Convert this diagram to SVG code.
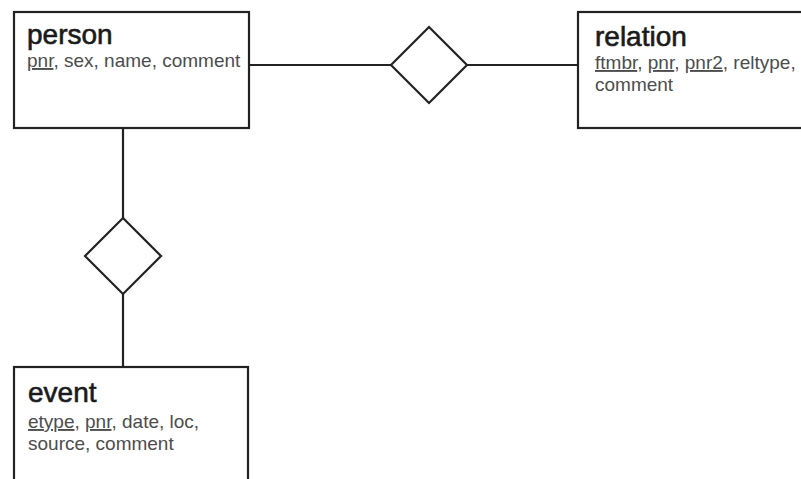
<svg xmlns="http://www.w3.org/2000/svg" width="801" height="479" viewBox="0 0 801 479">
<style>
.box{fill:#fff;stroke:#222;stroke-width:2.2}
.dia{fill:#fff;stroke:#222;stroke-width:2.2;stroke-linejoin:miter}
.conn{stroke:#222;stroke-width:2.2;fill:none}
.title{font-family:"Liberation Sans",Arial,sans-serif;font-size:28px;fill:#1a1a1a;stroke:#1a1a1a;stroke-width:0.6}
.attr{font-family:"Liberation Sans",Arial,sans-serif;font-size:19px;fill:#4d4d4d}
.key{text-decoration:underline}
</style>
<rect width="801" height="479" fill="#fff"/>
<g id="connectors">
<line class="conn" x1="249" y1="65" x2="391" y2="65"/>
<line class="conn" x1="467" y1="65" x2="578" y2="65"/>
<line class="conn" x1="123" y1="128" x2="123" y2="218"/>
<line class="conn" x1="123" y1="294" x2="123" y2="367"/>
</g>
<g id="person">
<rect class="box" x="14" y="12" width="235" height="116"/>
<text class="title" x="27" y="44">person</text>
<text class="attr" x="27" y="67"><tspan class="key">pnr</tspan>, sex, name, comment</text>
</g>
<g id="relation">
<rect class="box" x="578" y="12" width="240" height="116"/>
<text class="title" x="595" y="46">relation</text>
<text class="attr" x="595" y="69"><tspan class="key">ftmbr</tspan>, <tspan class="key">pnr</tspan>, <tspan class="key">pnr2</tspan>, reltype,</text>
<text class="attr" x="595" y="91">comment</text>
</g>
<g id="event">
<rect class="box" x="14" y="367" width="234" height="130"/>
<text class="title" x="28" y="402">event</text>
<text class="attr" x="28" y="428"><tspan class="key">etype</tspan>, <tspan class="key">pnr</tspan>, date, loc,</text>
<text class="attr" x="28" y="450">source, comment</text>
</g>
<g id="rel-person-relation">
<polygon class="dia" points="429,27 467,65 429,103 391,65"/>
</g>
<g id="rel-person-event">
<polygon class="dia" points="123,218 161,256 123,294 85,256"/>
</g>
</svg>
